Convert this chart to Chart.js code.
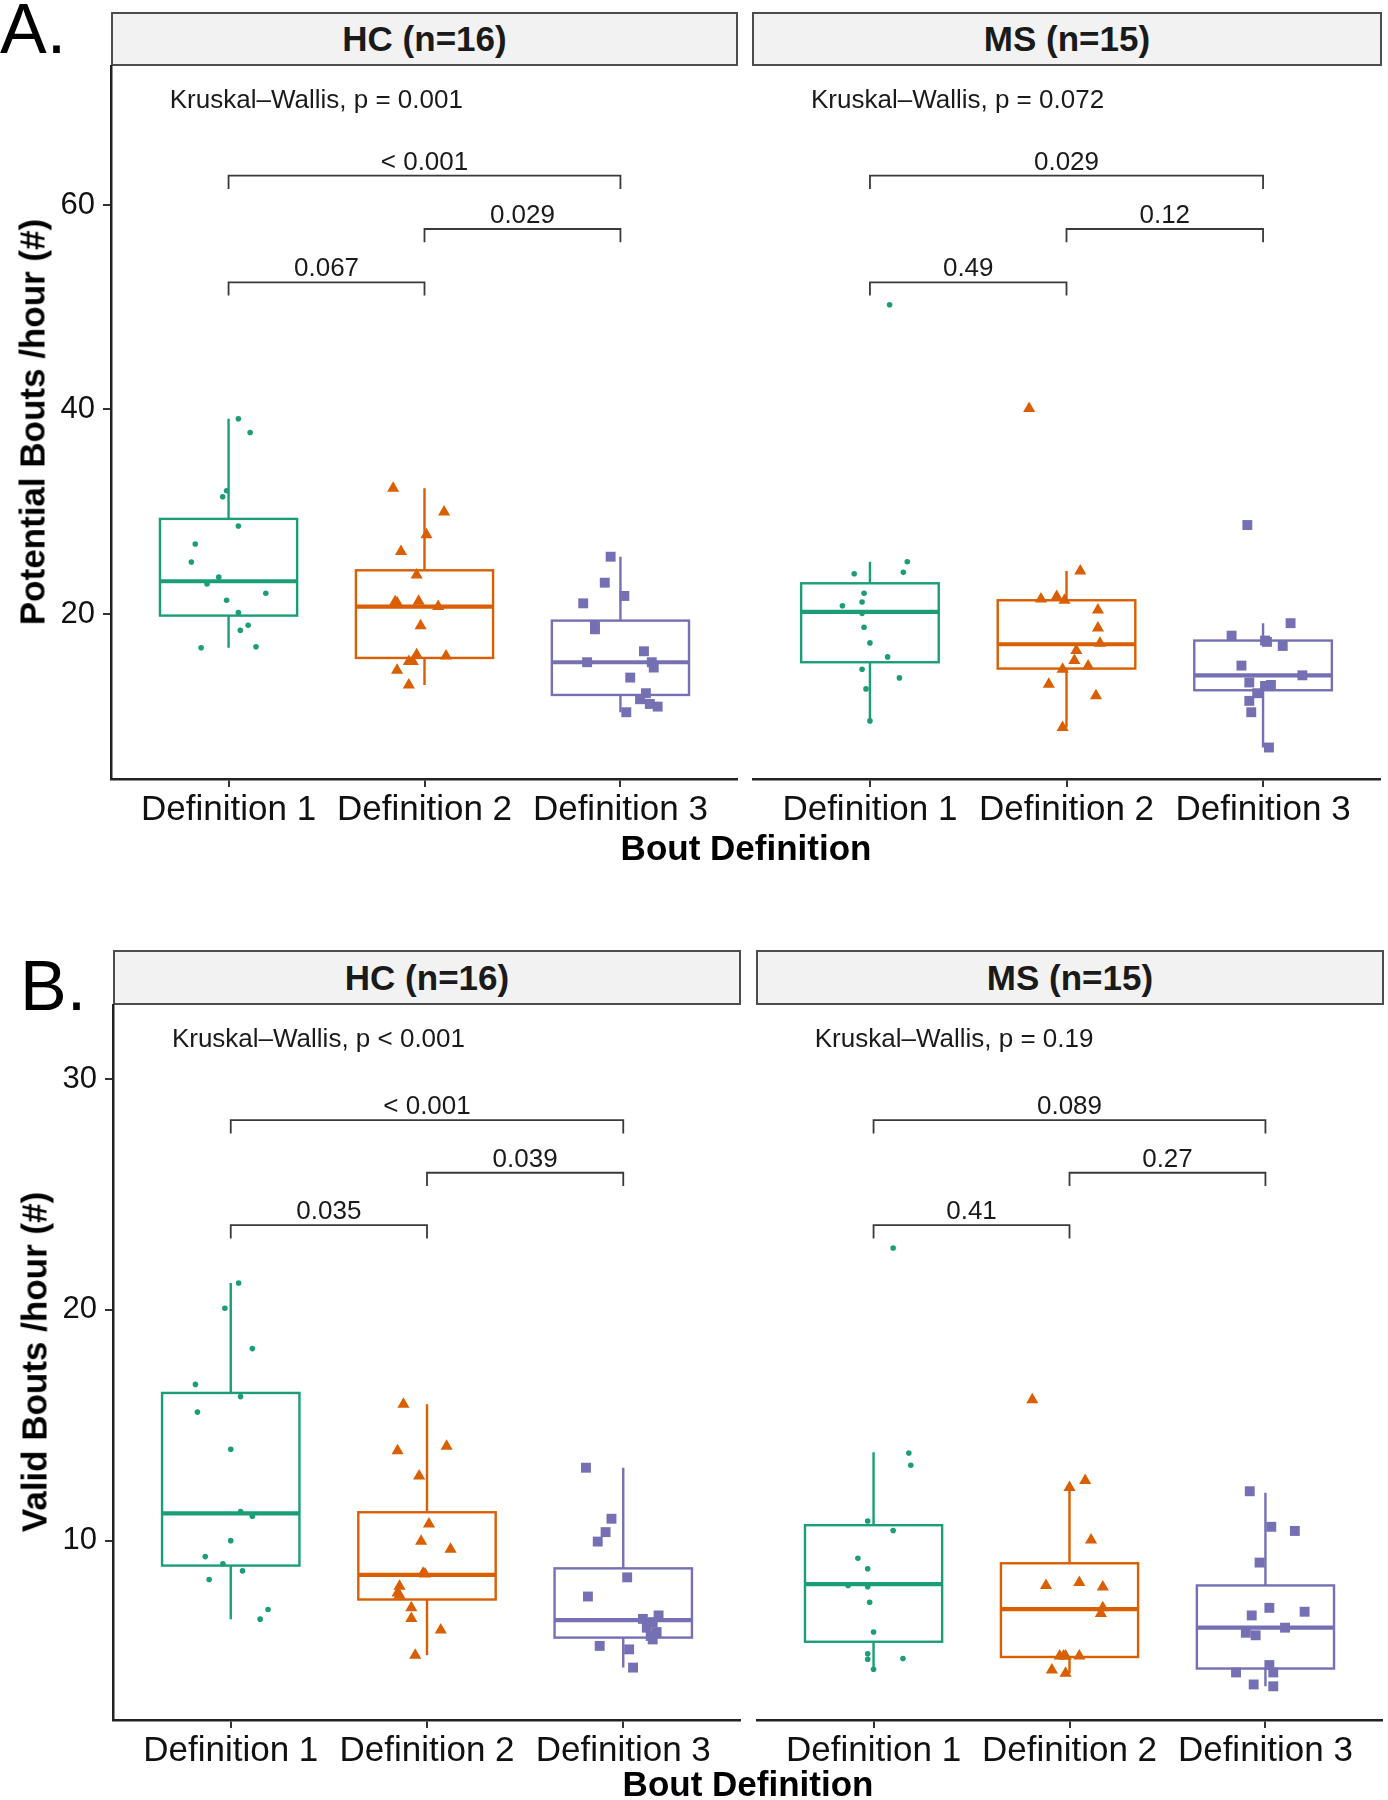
<!DOCTYPE html>
<html lang="en">
<head>
<meta charset="UTF-8">
<title>Bouts per hour by bout definition</title>
<script src="https://cdn.jsdelivr.net/npm/chart.js@4"></script>
<style>
    body {
        margin: 0;
        background: #fff;
        font-family: "Liberation Sans", Arial, sans-serif;
        color: #000;
    }

    #page {
        position: relative;
        width: 1388px;
        height: 1800px;
        overflow: hidden;
    }

    .tag {
        position: absolute;
        line-height: 1;
        font-size: 70px;
        font-weight: normal;
    }

    .strip {
        position: absolute;
        box-sizing: border-box;
        background: #f2f2f2;
        border: 2px solid #4d4d4d;
        font-weight: bold;
        font-size: 35px;
        color: #1a1a1a;
        display: flex;
        align-items: center;
        justify-content: center;
    }

    .ytitle,
    .xtitle {
        position: absolute;
        font-weight: bold;
        font-size: 35px;
        white-space: nowrap;
        line-height: 1;
    }

    .ytitle {
        transform: translate(-50%, -50%) rotate(-90deg);
    }

    .xtitle {
        transform: translate(-50%, -50%);
    }

    canvas {
        position: absolute;
    }
</style>
</head>
<body>
<div id="page">
    <div class="tag" style="left:0px; top:-6px;">A.</div>
    <div class="strip" style="left:111px; top:12px; width:627px; height:54px;">HC (n=16)</div>
    <div class="strip" style="left:752px; top:12px; width:630px; height:54px;">MS (n=15)</div>
    <canvas id="potHC" width="738" height="774" style="left:0px; top:65px;"></canvas>
    <canvas id="potMS" width="629" height="774" style="left:752px; top:65px;"></canvas>
    <div class="ytitle" style="left:32px; top:422px;">Potential Bouts /hour (#)</div>
    <div class="xtitle" style="left:746px; top:847px;">Bout Definition</div>

    <div class="tag" style="left:20px; top:951px;">B.</div>
    <div class="strip" style="left:113px; top:950px; width:628px; height:55px;">HC (n=16)</div>
    <div class="strip" style="left:756px; top:950px; width:628px; height:55px;">MS (n=15)</div>
    <canvas id="valHC" width="741" height="776" style="left:0px; top:1004px;"></canvas>
    <canvas id="valMS" width="627" height="776" style="left:756px; top:1004px;"></canvas>
    <div class="ytitle" style="left:34px; top:1362px;">Valid Bouts /hour (#)</div>
    <div class="xtitle" style="left:748px; top:1783px;">Bout Definition</div>
</div>

<script>
    const categories = ["Definition 1", "Definition 2", "Definition 3"];
    const colors = ["#1b9e77", "#d95f02", "#7570b3"];
    const shapes = ["circle", "triangle", "rect"];

    // A. potential bouts / hour
    const potentialTicks = [20, 40, 60];
    const potentialRange = [3.86, 73.69];
    const potHC = [
        [39.1, 37.75, 32.05, 31.47, 28.6, 26.84, 25.08, 23.6, 22.93, 22.02, 21.34, 20.13, 18.89, 18.4, 16.7, 16.8],
        [32.3, 29.97, 27.75, 26.1, 23.8, 21.2, 21.24, 20.72, 18.86, 16.0, 15.9, 15.34, 15.34, 14.5, 13.06, 21.1],
        [25.6, 23.06, 21.76, 21.04, 18.83, 18.5, 16.35, 15.28, 15.28, 14.76, 13.78, 12.25, 11.66, 11.2, 10.94, 10.39]
    ];
    const potHCJitter = [
        [0.05, 0.11, -0.01, -0.03, 0.05, -0.17, -0.19, -0.05, -0.11, 0.19, -0.01, 0.05, 0.10, 0.06, -0.14, 0.14],
        [-0.16, 0.10, 0.01, -0.12, -0.04, -0.15, -0.03, 0.07, -0.02, -0.04, 0.11, -0.08, -0.06, -0.14, -0.08, -0.14],
        [-0.05, -0.08, 0.02, -0.19, -0.13, -0.13, 0.12, -0.17, 0.16, 0.17, 0.05, 0.13, 0.10, 0.15, 0.19, 0.03]
    ];
    // [lower whisker, q1, median, q3, upper whisker]
    const potHCBox = [
        [16.7, 19.84, 23.2, 29.3, 39.1],
        [13.06, 15.7, 20.72, 24.27, 32.3],
        [10.39, 12.08, 15.28, 19.35, 25.6]
    ];
    const potMS = [
        [50.24, 25.1, 24.07, 23.94, 22.02, 21.17, 20.8, 20.06, 18.7, 17.17, 15.8, 14.6, 13.75, 12.67, 9.54],
        [40.1, 24.2, 21.47, 21.7, 21.34, 20.4, 18.63, 17.13, 16.42, 15.44, 14.92, 14.6, 13.13, 12.0, 8.89],
        [28.7, 19.1, 17.88, 17.4, 17.27, 16.87, 14.95, 14.0, 13.3, 13.06, 12.96, 12.25, 11.5, 10.39, 6.94]
    ];
    const potMSJitter = [
        [0.10, 0.19, 0.17, -0.08, -0.03, -0.04, -0.14, -0.04, -0.03, 0.0, 0.09, -0.04, 0.15, -0.02, 0.0],
        [-0.19, 0.07, -0.13, -0.05, -0.01, 0.16, 0.16, 0.17, 0.05, 0.04, 0.11, -0.02, -0.09, 0.15, -0.02],
        [-0.08, 0.14, -0.16, 0.01, 0.02, 0.10, -0.11, 0.20, -0.07, 0.04, 0.01, -0.03, -0.07, -0.06, 0.03]
    ];
    const potMSBox = [
        [9.54, 15.28, 20.2, 23.0, 25.1],
        [8.89, 14.66, 17.04, 21.34, 24.2],
        [6.94, 12.54, 14.0, 17.4, 19.1]
    ];
    const potBrackets = [52.44, 57.65, 62.87];
    const potHCp = ["0.067", "0.029", "< 0.001"];
    const potMSp = ["0.49", "0.12", "0.029"];

    // B. valid bouts / hour
    const validTicks = [10, 20, 30];
    const validRange = [2.23, 33.25];
    const valHC = [
        [21.16, 20.07, 18.32, 16.77, 16.24, 15.57, 13.96, 11.26, 11.06, 10.0, 9.31, 9.0, 8.69, 8.32, 7.02, 6.6],
        [15.91, 13.9, 14.09, 12.8, 10.72, 9.97, 9.63, 8.59, 8.56, 8.02, 7.73, 7.63, 7.09, 6.63, 6.13, 5.04],
        [13.16, 10.95, 10.37, 9.96, 8.41, 7.58, 6.61, 6.76, 6.47, 6.23, 6.04, 5.72, 5.44, 5.29, 4.5, 5.87]
    ];
    const valHCJitter = [
        [0.04, -0.03, 0.11, -0.18, 0.05, -0.17, 0.0, 0.05, 0.11, 0.0, -0.13, -0.04, 0.06, -0.11, 0.19, 0.15],
        [-0.12, -0.15, 0.10, -0.04, 0.01, -0.03, 0.12, -0.02, -0.01, -0.14, -0.15, -0.14, -0.08, -0.08, 0.07, -0.06],
        [-0.19, -0.06, -0.09, -0.13, 0.02, -0.18, 0.10, 0.18, 0.15, 0.12, 0.17, 0.15, -0.12, 0.03, 0.05, 0.14]
    ];
    const valHCBox = [
        [6.6, 8.92, 11.18, 16.4, 21.16],
        [5.04, 7.45, 8.52, 11.23, 15.91],
        [4.5, 5.8, 6.56, 8.8, 13.16]
    ];
    const valMS = [
        [22.68, 13.8, 13.27, 10.85, 10.44, 9.24, 8.78, 8.06, 8.0, 7.33, 6.04, 5.1, 4.86, 4.89, 4.43],
        [16.1, 12.61, 12.3, 10.03, 8.06, 8.19, 7.99, 7.09, 6.84, 5.0, 5.0, 5.0, 4.4, 4.26, 5.0],
        [12.14, 10.6, 10.42, 9.05, 7.09, 6.92, 6.76, 6.23, 6.01, 5.9, 4.61, 4.29, 4.29, 3.77, 3.69]
    ];
    const valMSJitter = [
        [0.10, 0.18, 0.19, -0.03, 0.10, -0.08, -0.03, -0.13, -0.03, -0.02, 0.0, -0.03, -0.03, 0.15, 0.0],
        [-0.19, 0.08, 0.0, 0.11, -0.12, 0.05, 0.17, 0.17, 0.16, -0.05, -0.02, 0.05, -0.09, -0.02, -0.03],
        [-0.08, 0.03, 0.15, -0.03, 0.02, 0.20, -0.07, 0.10, -0.10, -0.05, 0.02, -0.15, 0.04, -0.06, 0.04]
    ];
    const valMSBox = [
        [4.43, 5.62, 8.12, 10.67, 13.83],
        [4.26, 4.96, 7.03, 9.02, 12.32],
        [3.69, 4.46, 6.23, 8.06, 12.08]
    ];
    const valBrackets = [23.67, 25.94, 28.22];
    const valHCp = ["0.035", "0.039", "< 0.001"];
    const valMSp = ["0.41", "0.27", "0.089"];

    const bracketPairs = [[1, 2], [2, 3], [1, 3]];
    const kwX = 0.7;

    Chart.defaults.font.family = '"Liberation Sans", Arial, sans-serif';

    function makePanel(id, p) {
        let datasets = p.values.map((vals, i) => ({
            data: vals.map((v, j) => ({ x: i + 1 + p.jitter[i][j], y: v })),
            pointStyle: shapes[i],
            pointRadius: i === 0 ? 2.8 : 7,
            pointBorderWidth: 0,
            backgroundColor: colors[i],
            borderColor: colors[i]
        }));

        // box + whiskers, drawn under the points
        let boxes = {
            id: "boxes",
            beforeDatasetsDraw(chart) {
                const { ctx, scales: { x, y } } = chart;
                p.box.forEach((s, i) => {
                    let xc = x.getPixelForValue(i + 1);
                    let hw = x.getPixelForValue(i + 1.35) - xc;
                    let [lo, q1, med, q3, hi] = s.map(v => y.getPixelForValue(v));
                    ctx.save();
                    ctx.strokeStyle = colors[i];
                    ctx.lineWidth = 2.4;
                    ctx.beginPath();
                    ctx.moveTo(xc, lo); ctx.lineTo(xc, q1);
                    ctx.moveTo(xc, q3); ctx.lineTo(xc, hi);
                    ctx.stroke();
                    ctx.strokeRect(xc - hw, q3, 2 * hw, q1 - q3);
                    ctx.lineWidth = 4.2;
                    ctx.beginPath();
                    ctx.moveTo(xc - hw, med); ctx.lineTo(xc + hw, med);
                    ctx.stroke();
                    ctx.restore();
                });
            }
        };

        // significance brackets and Kruskal-Wallis label
        let notes = {
            id: "notes",
            afterDatasetsDraw(chart) {
                const { ctx, scales: { x, y } } = chart;
                ctx.save();
                ctx.strokeStyle = "#3a3a3a";
                ctx.lineWidth = 1.8;
                ctx.fillStyle = "#1a1a1a";
                ctx.font = '26px "Liberation Sans", Arial, sans-serif';
                ctx.textAlign = "center";
                ctx.textBaseline = "alphabetic";
                p.brackets.forEach((b, k) => {
                    let x1 = x.getPixelForValue(bracketPairs[k][0]);
                    let x2 = x.getPixelForValue(bracketPairs[k][1]);
                    let yl = y.getPixelForValue(b);
                    let yt = y.getPixelForValue(b - p.tip);
                    ctx.beginPath();
                    ctx.moveTo(x1, yt); ctx.lineTo(x1, yl); ctx.lineTo(x2, yl); ctx.lineTo(x2, yt);
                    ctx.stroke();
                    ctx.fillText(p.pLabels[k], (x1 + x2) / 2, yl - 6);
                });
                ctx.textAlign = "left";
                ctx.fillText(p.kw, x.getPixelForValue(kwX), y.getPixelForValue(p.kwY));
                ctx.restore();
            }
        };

        let canvas = document.getElementById(id);
        return new Chart(canvas, {
            type: "scatter",
            data: { datasets: datasets },
            plugins: [boxes, notes],
            options: {
                responsive: false,
                animation: false,
                devicePixelRatio: 1,
                layout: { padding: 0, autoPadding: false },
                plugins: { legend: { display: false }, tooltip: { enabled: false } },
                scales: {
                    x: {
                        type: "linear",
                        min: 0.4,
                        max: 3.6,
                        afterBuildTicks: s => { s.ticks = [1, 2, 3].map(v => ({ value: v })); },
                        afterFit: s => {
                            s.height = p.xAxisH;
                            s.paddingLeft = 0; s.paddingRight = 0;
                        },
                        ticks: {
                            callback: v => categories[v - 1],
                            font: { size: 35 },
                            color: "#111",
                            padding: 2,
                            maxRotation: 0,
                            autoSkip: false
                        },
                        grid: { drawOnChartArea: false, drawTicks: true, tickLength: 8, color: "#333", lineWidth: 2 },
                        border: { display: true, color: "#222", width: 2.5 }
                    },
                    y: {
                        type: "linear",
                        display: p.showY,
                        min: p.range[0],
                        max: p.range[1],
                        afterBuildTicks: s => { s.ticks = p.ticks.map(v => ({ value: v })); },
                        afterFit: s => {
                            s.width = p.yAxisW;
                            s.paddingTop = 0; s.paddingBottom = 0;
                        },
                        ticks: { font: { size: 31 }, color: "#111", padding: 8 },
                        grid: { drawOnChartArea: false, drawTicks: true, tickLength: 8, color: "#333", lineWidth: 2 },
                        border: { display: true, color: "#222", width: 2.5 }
                    }
                }
            }
        });
    }

    makePanel("potHC", {
        values: potHC, jitter: potHCJitter, box: potHCBox,
        brackets: potBrackets, pLabels: potHCp, tip: 1.3,
        kw: "Kruskal\u2013Wallis, p = 0.001", kwY: 69.46,
        ticks: potentialTicks, range: potentialRange,
        showY: true, yAxisW: 111, xAxisH: 60
    });
    makePanel("potMS", {
        values: potMS, jitter: potMSJitter, box: potMSBox,
        brackets: potBrackets, pLabels: potMSp, tip: 1.3,
        kw: "Kruskal\u2013Wallis, p = 0.072", kwY: 69.46,
        ticks: potentialTicks, range: potentialRange,
        showY: false, yAxisW: 0, xAxisH: 60
    });
    makePanel("valHC", {
        values: valHC, jitter: valHCJitter, box: valHCBox,
        brackets: valBrackets, pLabels: valHCp, tip: 0.58,
        kw: "Kruskal\u2013Wallis, p < 0.001", kwY: 31.4,
        ticks: validTicks, range: validRange,
        showY: true, yAxisW: 113, xAxisH: 60
    });
    makePanel("valMS", {
        values: valMS, jitter: valMSJitter, box: valMSBox,
        brackets: valBrackets, pLabels: valMSp, tip: 0.58,
        kw: "Kruskal\u2013Wallis, p = 0.19", kwY: 31.4,
        ticks: validTicks, range: validRange,
        showY: false, yAxisW: 0, xAxisH: 60
    });
</script>
</body>
</html>
